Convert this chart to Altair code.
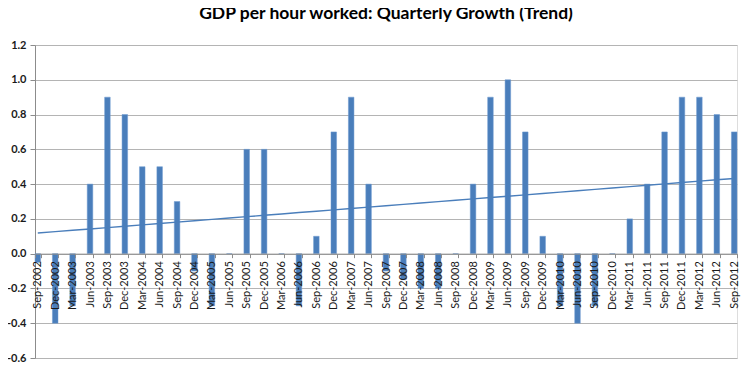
import altair as alt
import pandas as pd

quarters = [
    "Sep-2002", "Dec-2002", "Mar-2003", "Jun-2003", "Sep-2003", "Dec-2003",
    "Mar-2004", "Jun-2004", "Sep-2004", "Dec-2004", "Mar-2005", "Jun-2005",
    "Sep-2005", "Dec-2005", "Mar-2006", "Jun-2006", "Sep-2006", "Dec-2006",
    "Mar-2007", "Jun-2007", "Sep-2007", "Dec-2007", "Mar-2008", "Jun-2008",
    "Sep-2008", "Dec-2008", "Mar-2009", "Jun-2009", "Sep-2009", "Dec-2009",
    "Mar-2010", "Jun-2010", "Sep-2010", "Dec-2010", "Mar-2011", "Jun-2011",
    "Sep-2011", "Dec-2011", "Mar-2012", "Jun-2012", "Sep-2012",
]
growth = [
    -0.05, -0.4, -0.3, 0.4, 0.9, 0.8,
    0.5, 0.5, 0.3, -0.1, -0.3, 0.0,
    0.6, 0.6, 0.0, -0.3, 0.1, 0.7,
    0.9, 0.4, -0.1, -0.15, -0.2, -0.2,
    0.0, 0.4, 0.9, 1.0, 0.7, 0.1,
    -0.3, -0.4, -0.3, 0.0, 0.2, 0.4,
    0.7, 0.9, 0.9, 0.8, 0.7,
]
y_ticks = [-0.6, -0.4, -0.2, 0.0, 0.2, 0.4, 0.6, 0.8, 1.0, 1.2]
title_text = "GDP per hour worked: Quarterly Growth (Trend)"

df = pd.DataFrame({"Quarter": quarters, "Growth": growth,
                   "Idx": list(range(len(quarters)))})

W, H = 702, 313
YMIN, YMAX = -0.6, 1.2
BLUE = "#4a7ebb"

x_axis = alt.Axis(
    title=None, labelAngle=-90, labelAlign="right", labelBaseline="middle",
    offset=-H * (0 - YMIN) / (YMAX - YMIN),
    labelFont="Lato", labelFontSize=11, labelColor="#1a1a1a",
    labelPadding=3, domainColor="#8c8c8c", tickColor="#8c8c8c",
    tickSize=4, tickBand="extent", labelOverlap=False, zindex=2,
)
y_axis = alt.Axis(
    values=y_ticks, format=".1f", title=None, grid=True,
    gridColor="#b4b4b4", domainColor="#8c8c8c", tickColor="#8c8c8c",
    tickSize=5, labelFont="Lato", labelFontSize=11,
    labelColor="#1a1a1a", labelPadding=4, labelFontWeight="bold",
    labelOverlap=False,
)
x_scale = alt.Scale(paddingInner=0.68, paddingOuter=0)
y_scale = alt.Scale(domain=[YMIN, YMAX], nice=False, zero=False)

bars = alt.Chart(df).mark_bar(color=BLUE, stroke="#6f9bd1", strokeWidth=0.5).encode(
    x=alt.X("Quarter:N", sort=None, scale=x_scale, axis=x_axis),
    y=alt.Y("Growth:Q", scale=y_scale, axis=y_axis),
)

trend = alt.Chart(df).transform_joinaggregate(
    mx="mean(Idx)", my="mean(Growth)"
).transform_calculate(
    dx="datum.Idx - datum.mx",
    dxy="(datum.Idx - datum.mx) * (datum.Growth - datum.my)",
    dxx="(datum.Idx - datum.mx) * (datum.Idx - datum.mx)",
).transform_joinaggregate(
    sxy="sum(dxy)", sxx="sum(dxx)"
).transform_calculate(
    Trend="datum.my + datum.sxy / datum.sxx * datum.dx"
).mark_line(color=BLUE, strokeWidth=1.4).encode(
    x=alt.X("Quarter:N", sort=None, scale=x_scale, axis=x_axis),
    y=alt.Y("Trend:Q", scale=y_scale, axis=y_axis),
)

chart = alt.layer(bars, trend).properties(
    width=W, height=H,
    title=alt.TitleParams(title_text, font="Lato", fontSize=17.5,
                          fontWeight="bold", color="#000000",
                          anchor="middle", offset=17),
    autosize=alt.AutoSizeParams(type="none"),
    padding={"left": 27, "top": 37, "right": 9, "bottom": 10},
).configure_view(strokeWidth=0).configure(
    locale={"number": {"decimal": ".", "thousands": ",", "grouping": [3],
                       "currency": ["$", ""], "minus": "-"}}
)

chart.save("out.html", embed_options={"renderer": "svg", "actions": False})
